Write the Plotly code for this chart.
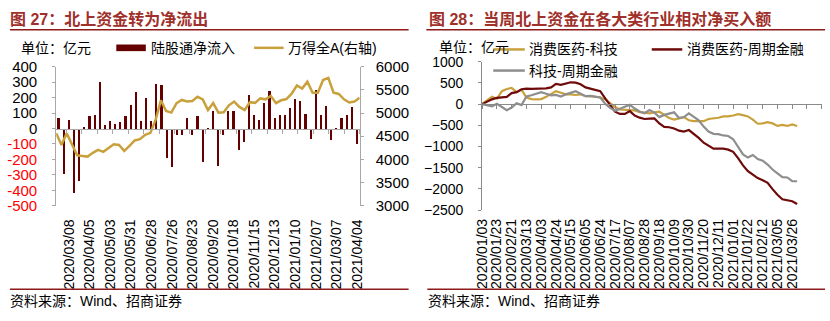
import pandas as pd
import plotly.graph_objects as go

W, H = 830, 321

# ---------------- 图27 data (weekly, Sundays) ----------------
flow_start = '2020-02-23'
flow_in = [67, -292, 55, -414, -337, 6, 80, 92, 300, 24,
           49, 31, 43, 80, 153, 239, 51, 202, 51, 288,
           284, -188, -249, -41, -41, 67, -41, 80, -218, 2,
           112, -243, -41, 112, 112, -139, -84, 216, 92, 55,
           167, 245, 67, 86, 86, 135, 190, 178, 98, -65,
           251, 86, 147, -71, 3, 67, 86, 141, -96]
wind_a = [4566, 4313, 4566, 4313, 4088, 4074, 4060, 4142, 4204, 4163,
          4238, 4327, 4313, 4183, 4292, 4409, 4436, 4532, 4573, 4859,
          5276, 5044, 5010, 5215, 5283, 5249, 5262, 5351, 5297, 5064,
          5215, 5010, 5016, 5167, 5249, 5133, 5064, 5235, 5221, 5317,
          5297, 5372, 5215, 5276, 5303, 5419, 5597, 5529, 5679, 5440,
          5440, 5713, 5761, 5440, 5413, 5297, 5228, 5249, 5331]
flow_labels = ['2020/03/08', '2020/04/05', '2020/05/03', '2020/05/31', '2020/06/28',
               '2020/07/26', '2020/08/23', '2020/09/20', '2020/10/18', '2020/11/15',
               '2020/12/13', '2021/01/10', '2021/02/07', '2021/03/07', '2021/04/04']
left_ticks = [-500, -400, -300, -200, -100, 0, 100, 200, 300, 400]
right_ticks = [3000, 3500, 4000, 4500, 5000, 5500, 6000]

# ---------------- 图28 data (weekly) ----------------
cons_tech = [0, 97, 172, 127, 306, 358, 380, 283, 343, 157,
             119, 112, 119, 172, 246, 306, 269, 231, 231, 216,
             231, 187, 187, 179, 157, 110, 22, -67, -127, -142,
             -142, -149, -187, -201, -216, -194, -179, -254, -328, -366,
             -328, -306, -380, -403, -403, -403, -351, -343, -321, -291,
             -291, -269, -239, -261, -291, -366, -463, -455, -425, -455,
             -515, -492, -515, -477, -515]
cons_cyc = [0, 60, 112, 149, 164, 172, 261, 283, 351, 366,
            358, 358, 373, 373, 395, 477, 455, 477, 515, 507,
            470, 395, 366, 343, 306, 134, -30, -179, -231, -231,
            -164, -269, -320, -351, -343, -336, -455, -537, -545, -574,
            -627, -649, -612, -701, -798, -910, -985, -1052, -1052, -1052,
            -1074, -1126, -1276, -1447, -1582, -1671, -1746, -1798, -1858, -2007,
            -2141, -2246, -2268, -2291, -2357]
tech_cyc = [0, -30, -52, 7, -67, -142, -82, 22, -22, 179,
            209, 246, 283, 246, 209, 216, 179, 231, 269, 306,
            246, 187, 194, 179, 157, 7, -89, -157, -104, -67,
            -15, -104, -175, -216, -142, -201, -306, -254, -216, -194,
            -328, -306, -216, -291, -380, -530, -649, -701, -709, -739,
            -753, -828, -1022, -1186, -1261, -1201, -1298, -1335, -1425, -1544,
            -1634, -1723, -1731, -1820, -1820]
rt_labels = ['2020/01/03', '2020/01/23', '2020/02/21', '2020/03/13', '2020/04/03',
             '2020/04/24', '2020/05/15', '2020/06/05', '2020/06/24', '2020/07/17',
             '2020/08/07', '2020/08/28', '2020/09/18', '2020/10/09', '2020/10/30',
             '2020/11/20', '2020/12/11', '2021/01/01', '2021/01/22', '2021/02/12',
             '2021/03/05', '2021/03/26']
rt_yticks = [-2500, -2000, -1500, -1000, -500, 0, 500, 1000]
series_names = ['消费医药-科技', '消费医药-周期金融', '科技-周期金融']

# ---------------- styling ----------------
C_BAR = '#640000'
C_GOLD = '#C9A13C'
C_DRED = '#6E0A0A'
C_GRAY = '#8E8E8E'
C_TITLE = '#A0302A'
C_RULE = '#8E1A1A'
AX_L = '#A8A8A8'
AX_R = '#8A8A8A'
FONT = 'Liberation Sans, Arial, Noto Sans CJK SC, sans-serif'


def fx(p):
    return p / W


def fy(p):
    return 1 - p / H


weeks = list(pd.date_range(flow_start, periods=len(flow_in), freq='7D').strftime('%Y/%m/%d'))
flow_tickvals = [weeks.index(l) for l in flow_labels]
n_flow = len(flow_in)
idx_flow = list(range(n_flow))

rt_tickvals = list(range(0, 3 * len(rt_labels), 3))
idx_rt = list(range(len(cons_tech)))
rt_max = 3 * (len(rt_labels) + 1)

# plot area geometry (pixels)
L_x0, L_x1, L_yt, L_yb = 49, 357.3, 61, 207.7
R_x0, R_x1, R_yt, R_yb = 481.7, 826.7, 55.7, 212.3

L_dom_y = [fy(L_yb), fy(L_yt)]
R_dom_y = [fy(R_yb), fy(R_yt)]
L_zero = L_dom_y[0] + (0 - left_ticks[0]) / (left_ticks[-1] - left_ticks[0]) * (L_dom_y[1] - L_dom_y[0])
R_zero = R_dom_y[0] + (0 - rt_yticks[0]) / (rt_yticks[-1] - rt_yticks[0]) * (R_dom_y[1] - R_dom_y[0])

fig = go.Figure()
fig.add_trace(go.Bar(x=idx_flow, y=flow_in, xaxis='x', yaxis='y', marker_color=C_BAR,
                     marker_line_width=0, width=0.42, name='陆股通净流入', showlegend=False))
fig.add_trace(go.Scatter(x=[None], y=[None], xaxis='x4', yaxis='y', showlegend=False,
                         hoverinfo='skip'))
fig.add_trace(go.Scatter(x=idx_flow, y=wind_a, xaxis='x3', yaxis='y2', mode='lines',
                         line=dict(color=C_GOLD, width=2.5), name='万得全A(右轴)', showlegend=False))

for vals, col, nm in [(cons_tech, C_GOLD, series_names[0]), (cons_cyc, C_DRED, series_names[1]),
                      (tech_cyc, C_GRAY, series_names[2])]:
    fig.add_trace(go.Scatter(x=idx_rt, y=vals, xaxis='x5', yaxis='y5', mode='lines',
                             line=dict(color=col, width=2.2), name=nm, showlegend=False))
fig.add_trace(go.Scatter(x=[None], y=[None], xaxis='x6', yaxis='y5', showlegend=False,
                         hoverinfo='skip'))

left_text = [str(v) if v >= 0 else '<span style="color:#FF0000">%d</span>' % v for v in left_ticks]

fig.update_layout(
    width=W, height=H, margin=dict(l=0, r=0, t=0, b=0),
    paper_bgcolor='white', plot_bgcolor='white',
    font=dict(family=FONT, color='black', size=14),
    showlegend=False, bargap=0,
    xaxis=dict(domain=[fx(L_x0), fx(L_x1)], range=[-0.5, n_flow - 0.5], anchor='y',
               tickmode='array', tickvals=flow_tickvals, ticktext=flow_labels, tickangle=-90,
               showline=False, ticks='', showgrid=False, zeroline=False,
               tickfont=dict(size=14), ticklabelstandoff=10),
    xaxis3=dict(overlaying='x', range=[0, n_flow - 1], visible=False, anchor='y2'),
    xaxis4=dict(overlaying='x', range=[-0.5, n_flow - 0.5], anchor='free', position=L_zero,
                showline=True, linecolor=AX_L, linewidth=1, ticks='outside', ticklen=4,
                tickcolor=AX_L, tickmode='array',
                tickvals=[v + 0.5 for v in range(1, n_flow, 3)],
                showticklabels=False, showgrid=False, zeroline=False),
    yaxis=dict(domain=L_dom_y, range=[left_ticks[0], left_ticks[-1]], anchor='x',
               tickmode='array', tickvals=left_ticks, ticktext=left_text,
               showline=True, linecolor=AX_L, ticks='outside', ticklen=3, tickcolor=AX_L,
               showgrid=False, zeroline=False, tickfont=dict(size=15), ticklabelstandoff=12),
    yaxis2=dict(overlaying='y', side='right', anchor='x', range=[right_ticks[0], right_ticks[-1]],
                tickmode='array', tickvals=right_ticks, showline=True, linecolor=AX_L,
                ticks='outside', ticklen=3, tickcolor=AX_L, showgrid=False, zeroline=False,
                tickfont=dict(size=15), ticklabelstandoff=9),
    xaxis5=dict(domain=[fx(R_x0), fx(R_x1)], range=[0, rt_max], anchor='y5',
                tickmode='array', tickvals=rt_tickvals, ticktext=rt_labels, tickangle=-90,
                showline=False, ticks='', showgrid=False, zeroline=False,
                tickfont=dict(size=14), ticklabelstandoff=5),
    xaxis6=dict(overlaying='x5', range=[0, rt_max], anchor='free', position=R_zero,
                showline=True, linecolor=AX_R, linewidth=1, ticks='outside', ticklen=4,
                tickcolor=AX_R, tickmode='array', tickvals=list(range(0, rt_max + 1, 3)),
                showticklabels=False, showgrid=False, zeroline=False),
    yaxis5=dict(domain=R_dom_y, range=[rt_yticks[0], rt_yticks[-1]], anchor='x5',
                tickmode='array', tickvals=rt_yticks, showline=True, linecolor=AX_R,
                ticks='outside', ticklen=3, tickcolor=AX_R, showgrid=False, zeroline=False,
                tickfont=dict(size=14), ticklabelstandoff=12),
)

ann = []
shapes = []


def text(x, y, s, size=14, color='black', bold=False):
    ann.append(dict(x=fx(x), y=fy(y), xref='paper', yref='paper', text=('<b>%s</b>' % s) if bold else s,
                    showarrow=False, xanchor='left', yanchor='middle',
                    font=dict(size=size, color=color, family=FONT)))


def hline(x0, x1, y, color, width):
    shapes.append(dict(type='line', xref='paper', yref='paper', x0=fx(x0), x1=fx(x1),
                       y0=fy(y), y1=fy(y), line=dict(color=color, width=width)))


# titles and rules
text(0, 11, '图 27：北上资金转为净流出', size=16, color=C_TITLE, bold=True)
text(426, 11, '图 28：当周北上资金在各大类行业相对净买入额', size=16, color=C_TITLE, bold=True)
hline(2, 407, 22, C_RULE, 1.5)
hline(425, 830, 22, C_RULE, 1.5)
hline(2, 407, 296, C_RULE, 1.5)
hline(426, 830, 296, C_RULE, 1.5)
text(0, 308, '资料来源：Wind、招商证券')
text(425, 308, '资料来源：Wind、招商证券')

# left legend
text(11, 41, '单位：亿元')
shapes.append(dict(type='rect', xref='paper', yref='paper', x0=fx(110), x1=fx(140),
                   y0=fy(44.5), y1=fy(37.5), fillcolor=C_BAR, line=dict(width=0)))
text(143, 41, '陆股通净流入')
hline(250, 280, 41, C_GOLD, 2.5)
text(282, 41, '万得全A(右轴)')

# right legend
text(436, 40, '单位：亿元')
hline(493, 525, 42.7, C_GOLD, 2.5)
text(527, 42, series_names[0])
hline(654, 685, 42.7, C_DRED, 2.5)
text(688, 42, series_names[1])
hline(493, 525, 65, C_GRAY, 2.5)
text(527, 65, series_names[2])

fig.update_layout(annotations=ann, shapes=shapes)
fig.write_html('out.html')
